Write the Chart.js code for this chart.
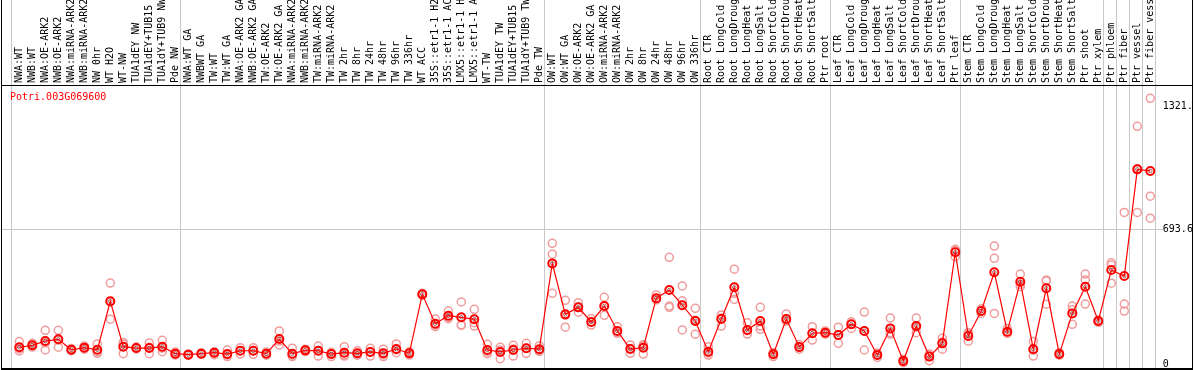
<!DOCTYPE html>
<html>
<head>
<meta charset="utf-8">
<script src="https://cdn.jsdelivr.net/npm/chart.js@4/dist/chart.umd.min.js"></script>
<style>
  html, body { margin: 0; padding: 0; background: #fff; }
  #wrap { width: 1194px; height: 370px; }
</style>
</head>
<body>
<div id="wrap"><canvas id="chart" width="1194" height="370"></canvas></div>
<script>
// --- Data ---
const geneId = 'Potri.003G069600';

const categories = [
    'NWA:WT', 'NWB:WT', 'NWA:OE-ARK2', 'NWB:OE-ARK2', 'NWA:miRNA-ARK2', 'NWB:miRNA-ARK2',
    'NW 0hr', 'WT H2O', 'WT-NW', 'TUA1dEY NW', 'TUA1dEY+TUB15 NW', 'TUA1dY+TUB9 NW', 'Pde NW',
    'NWA:WT GA', 'NWBWT GA', 'TW:WT', 'TW:WT GA', 'NWA:OE-ARK2 GA', 'NWB:OE-ARK2 GA',
    'TW:OE-ARK2', 'TW:OE-ARK2 GA', 'NWA:miRNA-ARK2 GA', 'NWB:miRNA-ARK2 GA', 'TW:miRNA-ARK2',
    'TW:miRNA-ARK2 GA', 'TW 2hr', 'TW 8hr', 'TW 24hr', 'TW 48hr', 'TW 96hr', 'TW 336hr', 'WT ACC',
    '35S::etr1-1 H2O', '35S::etr1-1 ACC', 'LMX5::etr1-1 H2O', 'LMX5::etr1-1 ACC', 'WT-TW',
    'TUA1dEY TW', 'TUA1dEY+TUB15 TW', 'TUA1dY+TUB9 TW', 'Pde TW',
    'OW:WT', 'OW:WT GA', 'OW:OE-ARK2', 'OW:OE-ARK2 GA', 'OW:miRNA-ARK2', 'OW:miRNA-ARK2 GA',
    'OW 2hr', 'OW 8hr', 'OW 24hr', 'OW 48hr', 'OW 96hr', 'OW 336hr',
    'Root CTR', 'Root LongCold', 'Root LongDrought', 'Root LongHeat', 'Root LongSalt',
    'Root ShortCold', 'Root ShortDrought', 'Root ShortHeat', 'Root ShortSalt', 'Ptr root',
    'Leaf CTR', 'Leaf LongCold', 'Leaf LongDrought', 'Leaf LongHeat', 'Leaf LongSalt',
    'Leaf ShortCold', 'Leaf ShortDrought', 'Leaf ShortHeat', 'Leaf ShortSalt', 'Ptr leaf',
    'Stem CTR', 'Stem LongCold', 'Stem LongDrought', 'Stem LongHeat', 'Stem LongSalt',
    'Stem ShortCold', 'Stem ShortDrought', 'Stem ShortHeat', 'Stem ShortSalt', 'Ptr shoot', 'Ptr xylem',
    'Ptr phloem', 'Ptr fiber', 'Ptr vessel', 'Ptr fiber vessel'
];

// index of the first category of each experiment group (88 = end)
const groupBreaks = [0, 13, 41, 53, 63, 73, 84, 85, 86, 87, 88];

const meanValues = [
    86, 96, 118, 127, 73, 84, 73, 322, 89, 82, 82, 89, 53,
    48, 53, 58, 51, 68, 68, 53, 128, 53, 70, 68, 51, 58, 55, 62, 55, 77, 55, 358, 207, 248, 240, 230, 72, 62, 72, 81, 76,
    517, 255, 291, 216, 298, 170, 77, 84, 338, 380, 302, 221,
    63, 231, 394, 175, 221, 50, 231, 87, 158, 161,
    149, 204, 170, 46, 183, 15, 195, 38, 106, 574,
    144, 272, 471, 166, 423, 76, 389, 51, 260, 397, 221,
    483, 452, 1000, 992
];

const rep1 = [
    115, 106, 173, 173, 79, 92, 103, 416, 111, 87, 108, 122, 62,
    51, 58, 63, 72, 84, 84, 62, 170, 81, 76, 92, 60, 89, 68, 81, 76, 103, 63, 363, 231, 272, 319, 281, 101, 86, 96, 106, 94,
    620, 327, 315, 233, 343, 192, 98, 99, 355, 548, 401, 286,
    89, 252, 487, 212, 291, 58, 257, 100, 192, 170,
    189, 217, 267, 57, 236, 24, 236, 51, 132, 589,
    161, 284, 606, 183, 462, 115, 432, 58, 298, 462, 226,
    520, 779, 1221, 1365
];

const rep2 = [
    77, 92, 108, 123, 72, 82, 63, 320, 103, 82, 86, 82, 53,
    46, 51, 57, 46, 68, 68, 53, 118, 46, 70, 68, 51, 46, 51, 63, 48, 72, 55, 358, 200, 240, 202, 212, 62, 72, 77, 81, 67,
    564, 250, 293, 216, 298, 159, 79, 94, 334, 298, 325, 225,
    57, 236, 363, 171, 195, 57, 222, 86, 158, 159,
    149, 204, 170, 45, 161, 14, 189, 41, 113, 582,
    154, 272, 543, 158, 409, 72, 426, 51, 279, 432, 221,
    509, 308, 1003, 862
];

const rep3 = [
    67, 87, 72, 86, 68, 76, 55, 230, 53, 77, 53, 63, 46,
    46, 50, 48, 38, 51, 50, 45, 98, 38, 63, 41, 38, 41, 45, 41, 38, 58, 46, 353, 192, 233, 199, 195, 53, 27, 41, 55, 65,
    363, 189, 266, 200, 250, 158, 55, 51, 329, 291, 175, 153,
    46, 195, 332, 154, 178, 38, 221, 76, 123, 153,
    106, 183, 72, 34, 154, 7, 161, 17, 76, 551,
    117, 260, 260, 158, 397, 41, 307, 45, 204, 308, 214,
    415, 272, 779, 749
];

const yTickValues = [0, 693.6, 1321.1];
const yMin = -25.7;
const yMax = 1433.5;

// --- Styling ---
const MONO = 'DejaVu Sans Mono';
const repColor = '#f09c9c';

Chart.defaults.font.family = MONO;
Chart.defaults.font.size = 10;
Chart.defaults.color = '#000';

function repDataset(data) {
    return {
        data,
        showLine: false,
        pointStyle: 'circle',
        pointRadius: 4,
        pointBorderWidth: 1.5,
        pointBorderColor: repColor,
        pointBackgroundColor: 'rgba(0,0,0,0)',
        order: 2
    };
}

// separators, the 693.6 grid line, outer frame and gene id
const framePlugin = {
    id: 'frame',
    beforeDatasetsDraw(chart) {
        const { ctx, chartArea } = chart;
        const x = chart.scales.x;
        const y = chart.scales.y;
        const w = x.getPixelForTick(1) - x.getPixelForTick(0);
        ctx.save();
        ctx.fillStyle = '#c8c8c8';
        groupBreaks.forEach(k => {
            const px = Math.round(x.getPixelForTick(0) + (k - 0.5) * w - 1.5);
            ctx.fillRect(px, 0, 1, chartArea.bottom);
        });
        const gy = Math.round(y.getPixelForValue(yTickValues[1]));
        ctx.fillRect(1, gy, 1162, 1);
        ctx.restore();
    },
    afterDraw(chart) {
        const { ctx, chartArea } = chart;
        ctx.save();
        ctx.fillStyle = '#000';
        ctx.fillRect(1, 0, 1, 370);
        ctx.fillRect(1192, 0, 1, 370);
        ctx.fillRect(1, Math.round(chartArea.bottom) - 1, 1192, 2);
        ctx.fillRect(1, Math.round(chartArea.top), 1192, 1);
        ctx.fillStyle = '#ff0000';
        ctx.font = '10px "' + MONO + '"';
        ctx.textBaseline = 'middle';
        ctx.fillText(geneId, 10, 97);
        ctx.restore();
    }
};

new Chart(document.getElementById('chart'), {
    type: 'line',
    data: {
        labels: categories,
        datasets: [
            {
                data: meanValues,
                borderColor: '#ff0000',
                borderWidth: 1.2,
                tension: 0,
                pointStyle: 'circle',
                pointRadius: 4,
                pointBorderWidth: 2,
                pointBorderColor: '#ff0000',
                pointBackgroundColor: 'rgba(0,0,0,0)',
                order: 0
            },
            {
                data: meanValues,
                showLine: false,
                pointRadius: 1.8,
                pointBorderWidth: 0.8,
                pointBorderColor: 'rgba(90,0,0,0.7)',
                pointBackgroundColor: 'rgba(0,0,0,0)',
                order: 1
            },
            repDataset(rep1),
            repDataset(rep2),
            repDataset(rep3)
        ]
    },
    options: {
        responsive: false,
        animation: false,
        devicePixelRatio: 1,
        layout: {
            autoPadding: false,
            padding: { left: 12.8, right: 0, top: 0, bottom: 1 }
        },
        plugins: {
            legend: { display: false },
            tooltip: { enabled: false }
        },
        scales: {
            x: {
                type: 'category',
                position: 'top',
                offset: true,
                grid: { display: false, drawTicks: false },
                border: { display: false },
                ticks: {
                    autoSkip: false,
                    minRotation: 90,
                    maxRotation: 90,
                    padding: 2,
                    labelOffset: 12,
                    color: '#000',
                    font: { family: MONO, size: 10 }
                },
                afterFit(scale) {
                    scale.height = 85;
                    scale.paddingLeft = 0;
                    scale.paddingRight = 0;
                }
            },
            y: {
                position: 'right',
                min: yMin,
                max: yMax,
                grid: { display: false, drawTicks: false },
                border: { display: false },
                afterBuildTicks(scale) {
                    scale.ticks = yTickValues.map(v => ({ value: v }));
                },
                ticks: {
                    padding: 6,
                    color: '#000',
                    font: { family: MONO, size: 10 },
                    callback: v => (v === 0 ? '0' : v.toFixed(1))
                },
                afterFit(scale) {
                    scale.width = 37.2;
                    scale.paddingTop = 0;
                    scale.paddingBottom = 0;
                }
            }
        }
    },
    plugins: [framePlugin]
});
</script>
</body>
</html>
